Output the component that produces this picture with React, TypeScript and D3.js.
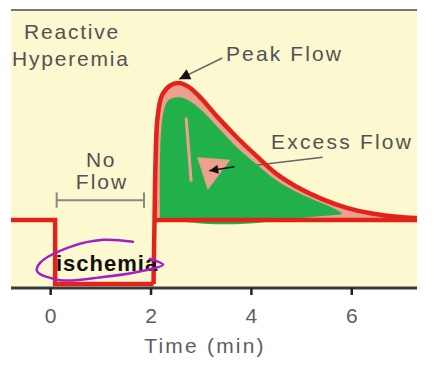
import React from "react";
import * as d3 from "d3";

// ---- data (time in minutes, flow relative to baseline = 1) ----
const xTicks = [0, 2, 4, 6];
const xTickLabels = ["0", "2", "4", "6"];

const stepTime = [-0.79, 0.09, 0.09, 2.05];
const stepFlow = [1, 1, 0, 0];

const hyperTime = [2.05, 2.07, 2.09, 2.13, 2.22, 2.38, 2.55, 2.75, 3.0, 3.3, 3.7, 4.1, 4.5, 4.9, 5.4, 5.9, 6.4, 6.9, 7.3];
const hyperFlow = [0, 1.0, 1.9, 2.6, 2.95, 3.1, 3.14, 3.08, 2.9, 2.63, 2.3, 2.0, 1.72, 1.52, 1.33, 1.19, 1.1, 1.05, 1.03];

const baselineTime = [2.05, 7.3];
const baselineFlow = [1, 1];

const greenTime = [2.2, 2.24, 2.35, 2.55, 2.75, 3.0, 3.3, 3.7, 4.1, 4.5, 4.9, 5.3, 5.6, 5.78];
const greenTop = [1.0, 2.55, 2.85, 2.9, 2.85, 2.7, 2.45, 2.12, 1.85, 1.6, 1.42, 1.28, 1.18, 1.1];
const greenBottom = [1.0, 1.0, 1.0, 0.99, 0.98, 0.96, 0.95, 0.95, 0.97, 1.0, 1.04, 1.07, 1.09, 1.1];

const pinkPatchTime = [2.92, 3.58, 3.13];
const pinkPatchFlow = [1.98, 1.94, 1.47];
const pinkStreakTime = [2.7, 2.75, 2.8];
const pinkStreakFlow = [2.6, 2.1, 1.6];

const purpleTime = [1.64, 1.05, 0.39, -0.21, -0.27, 0.19, 1.05, 1.92, 2.24, 1.98];
const purpleFlow = [0.66, 0.69, 0.58, 0.33, 0.2, 0.06, 0.11, 0.22, 0.3, 0.39];

// ---- layout ----
const W = 446;
const H = 375;
const left = 11;
const right = 417;
const top = 10;
const axisY = 288;

const FONT = "'Liberation Sans', Arial, Helvetica, sans-serif";

export default function App() {
  const x = d3.scaleLinear().domain([-0.79, 7.3]).range([left, right]);
  const y = d3.scaleLinear().domain([-0.0625, 4.28]).range([axisY, top]);

  const zip = (a: number[], b: number[]) => a.map((v, i) => [v, b[i]] as [number, number]);

  const lineLin = d3.line<[number, number]>().x((d) => x(d[0])).y((d) => y(d[1]));
  const lineCR = d3
    .line<[number, number]>()
    .x((d) => x(d[0]))
    .y((d) => y(d[1]))
    .curve(d3.curveCatmullRom.alpha(0.5));

  const hyper = zip(hyperTime, hyperFlow);
  const pinkArea = d3
    .area<[number, number]>()
    .x((d) => x(d[0]))
    .y0(y(1))
    .y1((d) => y(Math.max(1, d[1])))
    .curve(d3.curveCatmullRom.alpha(0.5))(hyper.slice(1));

  const greenPts = greenTime.map((t, i) => ({ t, top: greenTop[i], bot: greenBottom[i] }));
  const greenArea = d3
    .area<{ t: number; top: number; bot: number }>()
    .x((d) => x(d.t))
    .y0((d) => y(d.bot))
    .y1((d) => y(d.top))
    .curve(d3.curveCatmullRom.alpha(0.5))(greenPts);

  const pinkPatch = lineLin(zip(pinkPatchTime, pinkPatchFlow)) + "Z";

  const red = "#e2231a";
  const textGray = "#525252";

  // annotation anchors (data units)
  const peakFrom = [3.42, 3.53];
  const peakTo = [2.56, 3.2];
  const excessFrom = [5.42, 1.98];
  const excessTo = [3.16, 1.77];

  return (
    <svg width={W} height={H} style={{ position: "absolute", left: 0, top: 0, background: "#fff" }}>
      <defs>
        <marker id="ahPeak" viewBox="0 0 10 10" refX="10" refY="5" markerUnits="userSpaceOnUse" markerWidth="16" markerHeight="11" orient="auto">
          <path d="M0,0 L10,5 L0,10 z" fill="#111" />
        </marker>
        <marker id="ahEx" viewBox="0 0 10 10" refX="10" refY="5" markerUnits="userSpaceOnUse" markerWidth="14" markerHeight="9" orient="auto">
          <path d="M0,0 L10,5 L0,10 z" fill="#111" />
        </marker>
      </defs>

      {/* panel */}
      <rect x={left} y={top} width={right - left} height={axisY - top} fill="#fcf8d0" />
      <line x1={left} x2={right} y1={top} y2={top} stroke="#7a7870" strokeWidth={2} />

      {/* excess flow fill */}
      <path d={pinkArea || ""} fill="#eea090" />

      {/* excess arrow line (under scribble) */}
      <line x1={x(excessFrom[0])} y1={y(excessFrom[1])} x2={x(excessTo[0])} y2={y(excessTo[1])} stroke="#666" strokeWidth={1.6} />

      {/* green scribble */}
      <path d={greenArea || ""} fill="#22b04b" stroke="#22b04b" strokeWidth={2} strokeLinejoin="round" />
      <path d={pinkPatch} fill="#eea090" />
      <path d={lineLin(zip(pinkStreakTime, pinkStreakFlow)) || ""} fill="none" stroke="#eea090" strokeWidth={3} />
      <line x1={x(excessTo[0] + 0.5)} y1={y(excessTo[1] + 0.06)} x2={x(excessTo[0])} y2={y(excessTo[1])} stroke="#111" strokeWidth={1.5} markerEnd="url(#ahEx)" />

      {/* flow curves */}
      <path d={lineLin(zip(baselineTime, baselineFlow)) || ""} fill="none" stroke={red} strokeWidth={4.5} />
      <path d={lineLin(zip(stepTime, stepFlow)) || ""} fill="none" stroke={red} strokeWidth={4.5} strokeLinejoin="miter" />
      <path d={lineCR(hyper) || ""} fill="none" stroke={red} strokeWidth={4.5} strokeLinejoin="round" />

      {/* no-flow bracket */}
      <g stroke="#8a8a80" strokeWidth={2}>
        <line x1={x(0.12)} x2={x(1.86)} y1={y(1.31)} y2={y(1.31)} />
        <line x1={x(0.12)} x2={x(0.12)} y1={y(1.19)} y2={y(1.43)} />
        <line x1={x(1.86)} x2={x(1.86)} y1={y(1.19)} y2={y(1.43)} />
      </g>

      {/* axis */}
      <line x1={left} x2={right} y1={axisY} y2={axisY} stroke="#3a3a3a" strokeWidth={3} />
      {xTicks.map((t, i) => (
        <g key={t}>
          <line x1={x(t)} x2={x(t)} y1={axisY} y2={axisY + 7} stroke="#222" strokeWidth={2.5} />
          <text x={x(t)} y={323} textAnchor="middle" fontFamily={FONT} fontSize={21} fill="#5e5e5e">
            {xTickLabels[i]}
          </text>
        </g>
      ))}
      <text x={205} y={353} textAnchor="middle" fontFamily={FONT} fontSize={21} letterSpacing={2.2} fill="#5e5e5e">
        Time (min)
      </text>

      {/* labels */}
      <text x={24} y={39} fontFamily={FONT} fontSize={21} letterSpacing={1.8} fill={textGray}>Reactive</text>
      <text x={12} y={66} fontFamily={FONT} fontSize={21} letterSpacing={1.8} fill={textGray}>Hyperemia</text>
      <text x={226} y={61} fontFamily={FONT} fontSize={21} letterSpacing={2.1} fill={textGray}>Peak Flow</text>
      <text x={271} y={149} fontFamily={FONT} fontSize={21} letterSpacing={2.2} fill={textGray}>Excess Flow</text>
      <text x={101} y={167} textAnchor="middle" fontFamily={FONT} fontSize={21} letterSpacing={1.5} fill={textGray}>No</text>
      <text x={102} y={189} textAnchor="middle" fontFamily={FONT} fontSize={21} letterSpacing={2} fill={textGray}>Flow</text>

      {/* peak arrow */}
      <line x1={x(peakFrom[0])} y1={y(peakFrom[1])} x2={x(peakTo[0])} y2={y(peakTo[1])} stroke="#666" strokeWidth={1.6} markerEnd="url(#ahPeak)" />

      {/* ischemia */}
      <text x={56} y={271} fontFamily={FONT} fontSize={22} fontWeight="bold" letterSpacing={1} fill="#111">ischemia</text>
      <path d={lineCR(zip(purpleTime, purpleFlow)) || ""} fill="none" stroke="#a51fc4" strokeWidth={2.5} strokeLinecap="round" />
    </svg>
  );
}
